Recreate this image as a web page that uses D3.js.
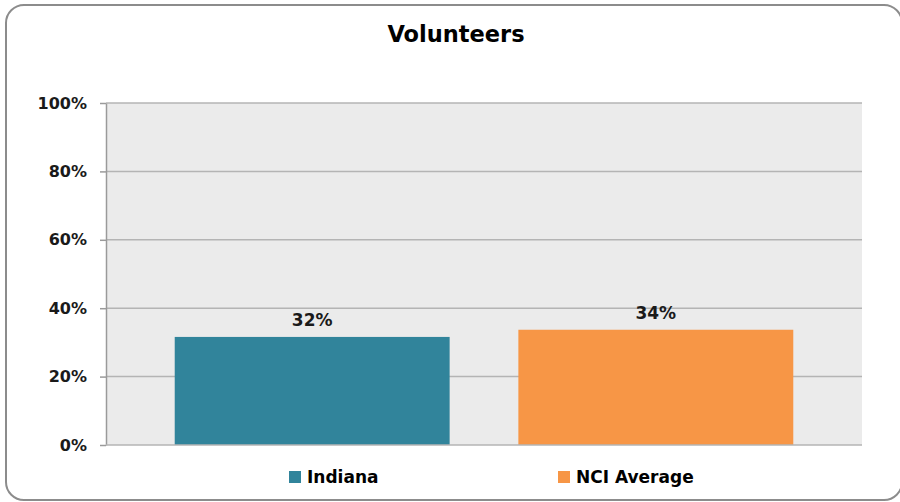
<!DOCTYPE html>
<html>
<head>
<meta charset="utf-8">
<script src="https://cdn.jsdelivr.net/npm/d3@7"></script>
<style>
  body { margin: 0; background: #fff; }
  svg { display: block; font-family: "DejaVu Sans", Verdana, sans-serif; }
</style>
</head>
<body>
<svg id="chart"></svg>
<script>
// data
const series = ["Indiana", "NCI Average"];
const values = [31.6, 33.7];
const colors = ["#31849B", "#F79646"];
const yTicks = [0, 20, 40, 60, 80, 100];
const title = "Volunteers";

const width = 900, height = 502;
const margin = { top: 103, right: 38, bottom: 57, left: 106 };

const svg = d3.select("#chart")
    .attr("width", width)
    .attr("height", height);

// outer frame
svg.append("rect")
    .attr("x", 6).attr("y", 5)
    .attr("width", 896).attr("height", 495)
    .attr("rx", 18).attr("ry", 18)
    .attr("fill", "#fff")
    .attr("stroke", "#8c8c8c")
    .attr("stroke-width", 2);

const plotW = width - margin.left - margin.right;
const plotH = height - margin.top - margin.bottom;

const g = svg.append("g")
    .attr("transform", `translate(${margin.left},${margin.top})`);

const x = d3.scaleBand()
    .domain(series)
    .range([0, plotW])
    .padding(0.2);

const y = d3.scaleLinear()
    .domain([0, 100])
    .range([plotH, 0]);

// plot background
g.append("rect")
    .attr("width", plotW)
    .attr("height", plotH)
    .attr("fill", "#ebebeb");

// gridlines
g.selectAll(".grid")
    .data(yTicks.filter(d => d > 0))
    .enter().append("line")
    .attr("class", "grid")
    .attr("x1", 0).attr("x2", plotW)
    .attr("y1", d => y(d)).attr("y2", d => y(d))
    .attr("stroke", "#b4b4b4")
    .attr("stroke-width", 1.5);

// y axis (axis call resets font attrs, so set them afterwards)
const yAxis = g.append("g")
    .call(d3.axisLeft(y).tickValues(yTicks).tickFormat(d => d + "%").tickSize(6).tickSizeOuter(0));
yAxis.attr("font-family", "DejaVu Sans, sans-serif")
    .attr("font-size", 16)
    .attr("font-weight", "bold");
yAxis.select(".domain").attr("stroke", "#9a9a9a").attr("stroke-width", 1.5);
yAxis.selectAll(".tick line").attr("stroke", "#9a9a9a").attr("stroke-width", 1.5);
yAxis.selectAll(".tick text")
    .attr("x", -19)
    .attr("fill", "#1a1a1a");

// bars
g.selectAll(".bar")
    .data(series)
    .enter().append("rect")
    .attr("class", "bar")
    .attr("x", d => x(d))
    .attr("y", (d, i) => y(values[i]))
    .attr("width", x.bandwidth())
    .attr("height", (d, i) => plotH - y(values[i]))
    .attr("fill", (d, i) => colors[i]);

// x axis baseline
g.append("line")
    .attr("x1", 0).attr("x2", plotW)
    .attr("y1", plotH).attr("y2", plotH)
    .attr("stroke", "#b4b4b4")
    .attr("stroke-width", 1.5);

// value labels
g.selectAll(".label")
    .data(series)
    .enter().append("text")
    .attr("class", "label")
    .attr("x", d => x(d) + x.bandwidth() / 2)
    .attr("y", (d, i) => y(values[i]) - 11)
    .attr("text-anchor", "middle")
    .attr("fill", "#1a1a1a")
    .style("font-size", "17px")
    .style("font-weight", "bold")
    .text((d, i) => Math.round(values[i]) + "%");

// title
svg.append("text")
    .attr("x", 456).attr("y", 42)
    .attr("text-anchor", "middle")
    .attr("fill", "#000")
    .style("font-size", "22.5px")
    .style("font-weight", "bold")
    .text(title);

// legend
const legendX = [289, 558];
const legend = svg.selectAll(".legend")
    .data(series)
    .enter().append("g")
    .attr("class", "legend")
    .attr("transform", (d, i) => `translate(${legendX[i]},471)`);

legend.append("rect")
    .attr("width", 12).attr("height", 12)
    .attr("fill", (d, i) => colors[i]);

legend.append("text")
    .attr("x", 18).attr("y", 12)
    .attr("fill", "#000")
    .style("font-size", "17px")
    .style("font-weight", "bold")
    .text(d => d);
</script>
</body>
</html>
